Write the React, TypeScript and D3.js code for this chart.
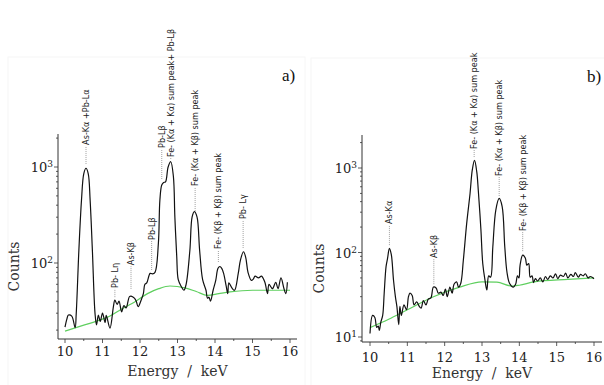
import React from 'react';
import * as d3 from 'd3';

// ---------- Panel a) spectrum ----------
const energyA = [10.0, 10.05, 10.09, 10.18, 10.27, 10.30, 10.37, 10.44, 10.50, 10.56, 10.62, 10.67, 10.73, 10.80, 10.84, 10.89, 10.94, 11.0, 11.07, 11.1, 11.2, 11.29, 11.33, 11.39, 11.44, 11.51, 11.57, 11.63, 11.72, 11.78, 11.85, 11.9, 11.95, 12.04, 12.09, 12.13, 12.18, 12.27, 12.33, 12.4, 12.49, 12.53, 12.58, 12.63, 12.68, 12.75, 12.82, 12.89, 12.93, 12.98, 13.02, 13.1, 13.17, 13.23, 13.33, 13.39, 13.45, 13.52, 13.59, 13.67, 13.76, 13.8, 13.84, 13.88, 13.95, 14.02, 14.08, 14.13, 14.18, 14.23, 14.3, 14.34, 14.37, 14.45, 14.52, 14.62, 14.68, 14.76, 14.82, 14.88, 14.97, 15.02, 15.07, 15.16, 15.24, 15.33, 15.4, 15.44, 15.53, 15.62, 15.68, 15.76, 15.84, 15.89, 15.93];
const countsA = [21.5, 26, 28.7, 28, 21.2, 30, 136, 453, 850, 970, 850, 453, 136, 30, 22.6, 28.7, 24.6, 30, 24, 28.5, 21, 35, 41, 37, 40, 31, 36, 34, 44.6, 45, 43, 40, 35, 42, 48, 60, 62, 78, 77, 80, 160, 450, 650, 690, 700, 1000, 1135, 800, 300, 116, 67, 57, 52, 60, 136, 302, 343, 302, 136, 67, 52, 43, 44, 40, 52, 66, 88, 92, 88, 78, 57, 48, 62, 55, 52, 78, 108, 131, 114, 80, 66, 68, 73, 70, 73, 63, 48, 60, 54, 63, 54, 70, 54, 48, 63];
const bgEnergyA = [10.0, 10.5, 11.0, 11.2, 11.5, 11.87, 12.2, 12.5, 12.8, 13.2, 13.5, 13.8, 14.1, 14.4, 15.0, 16.0];
const bgCountsA = [19.5, 22.5, 26, 28, 33, 39.5, 48, 54, 57.6, 55, 50.5, 46, 48, 50, 52, 52];
const labelTextA = ['As-Kα +Pb-Lα', 'Pb-Lβ', 'Fe- (Kα + Kα) sum peak+ Pb-Lβ', 'Fe- (Kα + Kβ) sum peak', 'Fe- (Kβ + Kβ) sum peak', 'Pb- Lγ', 'Pb- Lη', 'As-Kβ', 'Pb-Lβ'];
const labelEnergyA = [10.56, 12.58, 12.82, 13.47, 14.09, 14.75, 11.33, 11.76, 12.31];
const labelPeakA = [1050, 732, 1183, 340, 100, 140, 43, 52.5, 82.6];
const labelTextStartA = [1700, 1580, 1270, 634, 140, 287, 55, 95, 174];

// ---------- Panel b) spectrum ----------
const energyB = [10.0, 10.07, 10.13, 10.18, 10.22, 10.25, 10.29, 10.34, 10.38, 10.43, 10.47, 10.52, 10.57, 10.63, 10.68, 10.72, 10.77, 10.8, 10.84, 10.91, 10.98, 11.03, 11.07, 11.13, 11.18, 11.25, 11.32, 11.37, 11.43, 11.5, 11.56, 11.63, 11.7, 11.77, 11.83, 11.9, 11.96, 12.02, 12.07, 12.14, 12.2, 12.25, 12.32, 12.37, 12.43, 12.5, 12.59, 12.68, 12.74, 12.8, 12.86, 12.9, 12.97, 13.02, 13.08, 13.13, 13.18, 13.23, 13.29, 13.37, 13.46, 13.54, 13.61, 13.67, 13.74, 13.84, 13.9, 13.95, 13.99, 14.02, 14.09, 14.16, 14.2, 14.25, 14.29, 14.34, 14.38, 14.43, 14.49, 14.56, 14.63, 14.7, 14.76, 14.83, 14.9, 14.97, 15.03, 15.1, 15.18, 15.24, 15.3, 15.38, 15.45, 15.5, 15.58, 15.64, 15.71, 15.77, 15.84, 15.9, 16.0];
const countsB = [11, 18, 17, 13, 13.5, 12, 15, 18, 33, 68, 85, 112, 95, 47, 30, 23, 14, 23, 18, 24, 21, 30, 33, 31, 24, 26, 23, 22, 27, 24, 28, 29, 39, 38, 33, 34, 31, 37, 30, 39, 33, 42, 45, 39, 43, 81, 221, 500, 950, 1230, 900, 550, 190, 74, 47, 36, 53, 51, 117, 318, 436, 350, 117, 58, 43, 39, 42, 53, 50, 71, 93, 86, 71, 74, 51, 53, 44, 49, 46, 50, 45, 52, 48, 53, 50, 56, 49, 54, 52, 57, 50, 55, 52, 58, 51, 55, 53, 56, 50, 52, 49];
const bgEnergyB = [10.0, 10.5, 11.0, 11.7, 12.4, 13.0, 13.4, 13.8, 14.0, 14.4, 15.3, 16.0];
const bgCountsB = [12.9, 16.2, 21, 30, 39, 45, 44.5, 40, 41, 45, 48, 50];
const labelTextB = ['As-Kα', 'As-Kβ', 'Fe- (Kα + Kα) sum peak', 'Fe- (Kα + Kβ) sum peak', 'Fe- (Kβ + Kβ) sum peak'];
const labelEnergyB = [10.52, 11.71, 12.79, 13.46, 14.09];
const labelPeakB = [119, 41, 1312, 454, 101];
const labelTextStartB = [217, 86, 1680, 804, 180];

const xTicks = [10, 11, 12, 13, 14, 15, 16];

type PanelProps = {
  energy: number[]; counts: number[]; bgE: number[]; bgC: number[];
  lText: string[]; lE: number[]; lPeak: number[]; lStart: number[];
  xRange: [number, number]; yDomain: [number, number]; yRange: [number, number];
  axisX: [number, number]; axisY: [number, number];
  tag: string; tagX: number; tagY: number;
  box: [number, number, number, number];
  countsX: number; energyY: number; tickLabelDy: number;
};

const SERIF = "'DejaVu Serif', serif";
const LABELFONT = "'DejaVu Sans Condensed', 'DejaVu Sans', sans-serif";

function Panel(p: PanelProps) {
  const x = d3.scaleLinear().domain([10, 16]).range(p.xRange);
  const y = d3.scaleLog().domain(p.yDomain).range(p.yRange);
  const line = d3.line<[number, number]>().x(d => x(d[0])).y(d => y(d[1])).curve(d3.curveCatmullRom.alpha(0.5));
  const data = p.energy.map((e, i) => [e, p.counts[i]] as [number, number]);
  const bg = p.bgE.map((e, i) => [e, p.bgC[i]] as [number, number]);
  const bgLine = d3.line<[number, number]>().x(d => x(d[0])).y(d => y(d[1])).curve(d3.curveMonotoneX);
  const [axY0, axY1] = p.axisY;
  const [axX0, axX1] = p.axisX;
  const yTicks: { v: number; major: boolean }[] = [];
  for (let k = 0; k <= 4; k++) {
    for (let j = 1; j <= 9; j++) {
      const v = j * Math.pow(10, k);
      const py = y(v);
      if (py <= axY0 + 0.5 && py >= axY1 - 0.5) yTicks.push({ v, major: j === 1 });
    }
  }
  const minorX = d3.range(10, 16.01, 0.5).filter(v => Math.abs(v - Math.round(v)) > 0.1);
  const cx = (x(10) + x(16)) / 2;
  const cy = (axY0 + axY1) / 2 + 30;
  return (
    <g>
      <rect x={p.box[0]} y={p.box[1]} width={p.box[2]} height={p.box[3]} fill="none" stroke="#f6f6f6" />
      <path d={bgLine(bg) || ''} fill="none" stroke="#5fcf5f" strokeWidth={1.2} />
      <path d={line(data) || ''} fill="none" stroke="#111" strokeWidth={1.2} />
      <line x1={axX0} x2={axX0} y1={axY0} y2={axY1} stroke="#333" strokeWidth={1} />
      <line x1={axX0} x2={axX1} y1={axY0} y2={axY0} stroke="#333" strokeWidth={1} />
      {yTicks.map(t => (
        <line key={t.v} x1={axX0} x2={axX0 - (t.major ? 4 : 2)} y1={y(t.v)} y2={y(t.v)} stroke="#333" strokeWidth={0.8} />
      ))}
      {yTicks.filter(t => t.major).map(t => (
        <text key={'l' + t.v} x={axX0 - 5} y={y(t.v) + 5} textAnchor="end" fontFamily={SERIF} fontSize={13} fill="#222">
          10<tspan dy={-5} fontSize={9}>{Math.round(Math.log10(t.v))}</tspan>
        </text>
      ))}
      {xTicks.map(t => (
        <g key={t}>
          <line x1={x(t)} x2={x(t)} y1={axY0} y2={axY0 + 4} stroke="#333" strokeWidth={0.8} />
          <text x={x(t)} y={axY0 + p.tickLabelDy} textAnchor="middle" fontFamily={SERIF} fontSize={13} fill="#222">{t}</text>
        </g>
      ))}
      {minorX.map(t => (
        <line key={'m' + t} x1={x(t)} x2={x(t)} y1={axY0} y2={axY0 + 2} stroke="#333" strokeWidth={0.8} />
      ))}
      <text x={cx} y={p.energyY} textAnchor="middle" fontFamily={SERIF} fontSize={14} fill="#333" xmlSpace="preserve">Energy  /  keV</text>
      <text transform={`translate(${p.countsX},${cy}) rotate(-90)`} textAnchor="middle" fontFamily={SERIF} fontSize={14} fill="#333">Counts</text>
      {p.lText.map((s, i) => {
        const lx = x(p.lE[i]);
        const y0 = y(p.lPeak[i]);
        const y1 = y(p.lStart[i]);
        return (
          <g key={'lab' + i}>
            <line x1={lx} x2={lx} y1={y0 - 1} y2={y1 + 1} stroke="#888" strokeWidth={0.8} strokeDasharray="1,1" />
            <text transform={`translate(${lx + 3},${y1}) rotate(-90)`} textAnchor="start" fontFamily={LABELFONT} fontSize={9} fill="#222">{s}</text>
          </g>
        );
      })}
      <text x={p.tagX} y={p.tagY} fontFamily="'Liberation Serif', serif" fontSize={17} fill="#111">{p.tag}</text>
    </g>
  );
}

export default function App() {
  return (
    <svg width={604} height={385} style={{ position: 'absolute', left: 0, top: 0, background: '#fff' }}>
      <Panel energy={energyA} counts={countsA} bgE={bgEnergyA} bgC={bgCountsA}
        lText={labelTextA} lE={labelEnergyA} lPeak={labelPeakA} lStart={labelTextStartA}
        xRange={[65, 290]} yDomain={[100, 1000]} yRange={[263, 167]}
        axisX={[58, 297]} axisY={[339, 134]} tag="a)" tagX={282} tagY={81}
        box={[8, 57, 297, 340]} countsX={19} energyY={376} tickLabelDy={17} />
      <Panel energy={energyB} counts={countsB} bgE={bgEnergyB} bgC={bgCountsB}
        lText={labelTextB} lE={labelEnergyB} lPeak={labelPeakB} lStart={labelTextStartB}
        xRange={[370, 594]} yDomain={[10, 1000]} yRange={[337, 168]}
        axisX={[362, 602]} axisY={[342, 135]} tag="b)" tagX={587} tagY={82}
        box={[311, 58, 300, 340]} countsX={324} energyY={378} tickLabelDy={20} />
    </svg>
  );
}
